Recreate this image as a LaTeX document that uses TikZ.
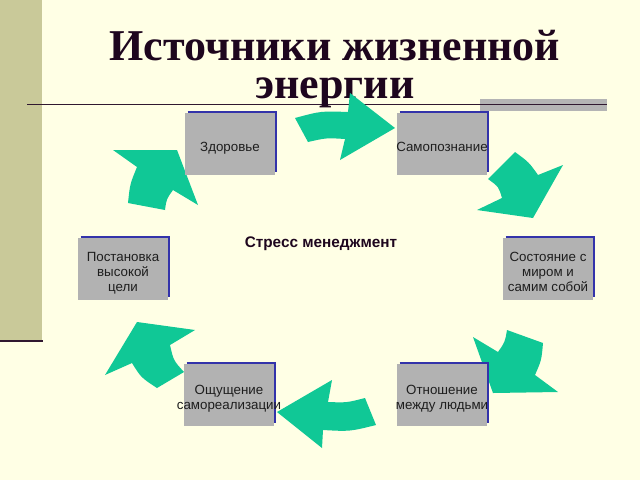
\documentclass[tikz,border=0pt]{standalone}
\usepackage{fontspec}
\setmainfont{Liberation Sans}
\newfontfamily\titlefont{Liberation Serif}
\usetikzlibrary{calc}
\definecolor{bgyellow}{RGB}{255,255,229}
\definecolor{sidebar}{RGB}{201,201,153}
\definecolor{boxgray}{RGB}{178,178,178}
\definecolor{boxblue}{RGB}{51,51,170}
\definecolor{arrowteal}{RGB}{16,200,150}
\definecolor{titleink}{RGB}{30,6,30}
\definecolor{rulecol}{RGB}{48,24,48}
\definecolor{bargray}{RGB}{180,180,180}
\definecolor{textink}{RGB}{30,30,30}
\begin{document}
\begin{tikzpicture}[x=0.75pt,y=-0.75pt,
  titletext/.style={font=\titlefont\bfseries\fontsize{33}{28.5}\selectfont, text=titleink, inner sep=0pt, align=center},
  greybox/.style={fill=boxgray, minimum width=67.5pt, minimum height=46.5pt, inner sep=0pt, draw=none},
  boxtext/.style={font=\fontsize{10}{11.25}\selectfont, text=textink, inner sep=0pt, align=center},
  blueline/.style={draw=boxblue, line width=1.5pt},
  arrowfill/.style={fill=arrowteal}
]
\useasboundingbox (0,0) rectangle (640,480);
\fill[bgyellow] (0,0) rectangle (640,480);
\fill[sidebar] (0,0) rectangle (42,340);
\draw[rulecol, line width=1.5pt] (0,341) -- (43,341);
\fill[bargray] (480,99) rectangle (607,111);
\draw[rulecol, line width=1.1pt] (27,104.5) -- (607,104.5);

% title (one node, two lines)
\node[titletext, anchor=base] (title) at (335,98) {Источники жизненной\\энергии};

% arrows
\fill[arrowfill] (295,118) .. controls (321,111) .. (348,112) -- (350,93) -- (395,128) -- (340,160) -- (345,139) .. controls (326.5,137.8) .. (308,142) -- cycle;
\fill[arrowfill] (515,152) .. controls (528.9,162.2) .. (538,175) -- (563,165) -- (533,218) -- (477,210) -- (502,198) .. controls (498.6,186.7) .. (488,179) -- cycle;
\fill[arrowfill] (543,343) .. controls (541.5,360.1) .. (535,375) -- (558,392) -- (493,393) -- (473,337) -- (498,352) .. controls (505,342) .. (507,330) -- cycle;
\fill[arrowfill] (376,425) .. controls (349.9,431.5) .. (323,430) -- (322,448) -- (277,412) -- (332,380) -- (328,402) .. controls (346.7,402.7) .. (365,398) -- cycle;
\fill[arrowfill] (157,388) .. controls (141,377.5) .. (132,363) -- (105,375) -- (137,322) -- (195,330) -- (170,345) .. controls (173.5,360.5) .. (184,372) -- cycle;
\fill[arrowfill] (128,203) .. controls (130,184) .. (137,167) -- (113,150) -- (177,150) -- (198,205) -- (173,190) .. controls (166.5,199) .. (165,210) -- cycle;

% boxes
\node[greybox] (zd) at (230,144) {};
\node[greybox] (sp) at (442,144) {};
\node[greybox] (pc) at (123,269) {};
\node[greybox] (ss) at (548,269) {};
\node[greybox] (os) at (229,395) {};
\node[greybox] (ot) at (442,395) {};
\foreach \n in {zd,sp,pc,ss,os,ot}{
  \draw[blueline] ($(\n.north west)+(3,-1)$) -- ($(\n.north east)+(1,-1)$) -- ($(\n.south east)+(1,-3)$);
}

\node[boxtext] (zdt) at ($(zd.center)+(0,4.5)$) {\begin{tabular}{@{}c@{}}Здоровье\end{tabular}};
\node[boxtext] (spt) at ($(sp.center)+(0,4.5)$) {\begin{tabular}{@{}c@{}}Самопознание\end{tabular}};
\node[boxtext] (pct) at ($(pc.center)+(0,4.5)$) {\begin{tabular}{@{}c@{}}Постановка\\высокой\\цели\end{tabular}};
\node[boxtext] (sst) at ($(ss.center)+(0,4)$) {\begin{tabular}{@{}c@{}}Состояние с\\миром и\\самим собой\end{tabular}};
\node[boxtext] (ost) at ($(os.center)+(0,4)$) {\begin{tabular}{@{}c@{}}Ощущение\\самореализации\end{tabular}};
\node[boxtext] (ott) at ($(ot.center)+(0,4)$) {\begin{tabular}{@{}c@{}}Отношение\\между людьми\end{tabular}};

\node[font=\bfseries\fontsize{11.5}{13}\selectfont, text=titleink, inner sep=0pt, anchor=base] (stress) at (321,247.5) {Стресс менеджмент};
\end{tikzpicture}
\end{document}
